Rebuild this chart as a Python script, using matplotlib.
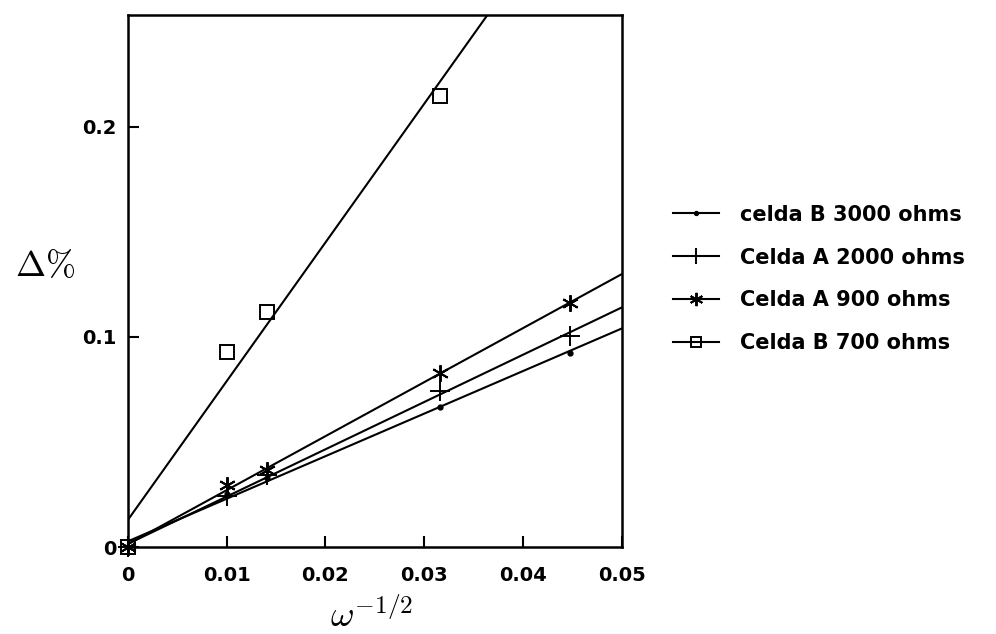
import numpy as np
import matplotlib
matplotlib.use("Agg")
import matplotlib.pyplot as plt
from matplotlib.lines import Line2D

plt.rcParams['mathtext.fontset'] = 'cm'
plt.rcParams['font.family'] = ['DejaVu Sans']

# Data
x_vals = [0.0, 0.01, 0.01414, 0.0316, 0.0447]
b3000 = [0.0, 0.025, 0.033, 0.0665, 0.0925]
a2000 = [0.0, 0.0243, 0.0343, 0.0744, 0.1005]
a900 = [0.0, 0.0295, 0.0367, 0.0827, 0.116]
x_b700 = [0.0, 0.01, 0.01414, 0.0316]
b700 = [0.0, 0.093, 0.1118, 0.2146]

labels = ["celda B 3000 ohms", "Celda A 2000 ohms", "Celda A 900 ohms", "Celda B 700 ohms"]
xticks = [0, 0.01, 0.02, 0.03, 0.04, 0.05]
xticklabels = ["0", "0.01", "0.02", "0.03", "0.04", "0.05"]
yticks = [0, 0.1, 0.2]
yticklabels = ["0", "0.1", "0.2"]

fig = plt.figure(figsize=(9.96, 6.34), dpi=100)
ax = fig.add_axes([0.1282, 0.1372, 0.6245 - 0.1282, 0.9756 - 0.1372])

series = [
    (x_vals, b3000, dict(marker='o', markersize=3.5, mfc='black', mew=1.0)),
    (x_vals, a2000, dict(marker='+', markersize=14, mew=1.4)),
    (x_vals, a900, dict(marker=(6, 2, 0), markersize=12, mew=1.4)),
    (x_b700, b700, dict(marker='s', markersize=9.5, mfc='none', mew=1.4)),
]

xx = np.array([0.0, 0.05])
handles = []
for (xs, ys, mk), lab in zip(series, labels):
    p = np.polyfit(xs, ys, 1)
    ax.plot(xx, np.polyval(p, xx), color='black', lw=1.5, clip_on=True)
    ax.plot(xs, ys, linestyle='none', color='black', clip_on=False, zorder=4, **mk)
    hk = dict(mk)
    hk['markersize'] = mk['markersize'] * 0.8
    handles.append(Line2D([], [], color='black', lw=1.5, **hk))

ax.set_xlim(0, 0.05)
ax.set_ylim(0, 0.253)
ax.set_xticks(xticks)
ax.set_xticklabels(xticklabels)
ax.set_yticks(yticks)
ax.set_yticklabels(yticklabels)
ax.tick_params(direction='in', length=8, width=1.5, labelsize=14)
ax.tick_params(axis='x', pad=14)
ax.tick_params(axis='y', pad=8)
for t in ax.get_xticklabels() + ax.get_yticklabels():
    t.set_fontweight('bold')
for s in ax.spines.values():
    s.set_linewidth(1.8)

fig.text(45 / 996, 1 - 266 / 634, r'$\Delta\%$', fontsize=26, ha='center', va='center')
fig.text(372 / 996, 1 - 627 / 634, r'$\omega^{-1/2}$', fontsize=26, ha='center', va='baseline')

leg = fig.legend(handles, labels, loc='center left', bbox_to_anchor=(673 / 996, 1 - 279 / 634),
                 frameon=False, prop={'weight': 'bold', 'size': 15},
                 handlelength=2.2, handletextpad=1.0, labelspacing=1.1,
                 borderpad=0, borderaxespad=0)

fig.savefig('out.png', dpi=100)
